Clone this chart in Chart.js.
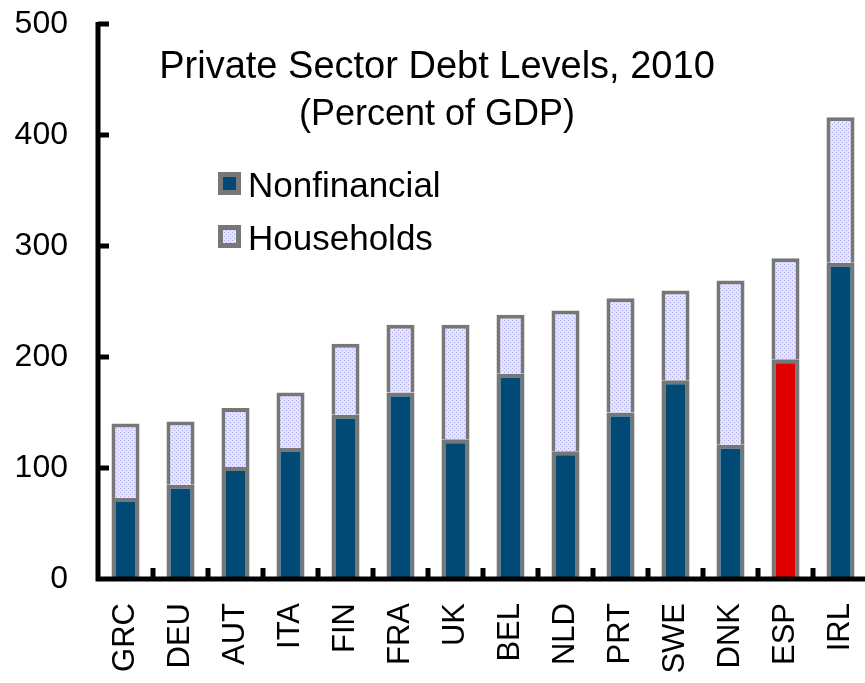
<!DOCTYPE html>
<html>
<head>
<meta charset="utf-8">
<script src="https://cdn.jsdelivr.net/npm/chart.js@4/dist/chart.umd.min.js"></script>
<style>
    body { margin: 0; background: #fff; overflow: hidden; }
    #wrap { width: 868px; height: 683px; }
</style>
</head>
<body>
<div id="wrap"><canvas id="debtChart"></canvas></div>
<script>
const countries = ['GRC', 'DEU', 'AUT', 'ITA', 'FIN', 'FRA', 'UK', 'BEL', 'NLD', 'PRT', 'SWE', 'DNK', 'ESP', 'IRL'];
const nonfinancial = [73, 85, 101, 118, 148, 168, 126, 185, 115, 150, 179, 121, 198, 285];
const households = [67, 57, 53, 50, 64, 61, 103, 53, 127, 103, 81, 148, 91, 131];
const yTicks = [0, 100, 200, 300, 400, 500];
const titleLines = ['Private Sector Debt Levels, 2010', '(Percent of GDP)'];

const FONT = '"Liberation Sans", Arial, sans-serif';
const BLUE = '#004a75';
const RED = '#e00000';
const GREY = '#777777';

// dotted lavender fill for the households part
function dotPattern() {
    const c = document.createElement('canvas');
    c.width = 4; c.height = 4;
    const g = c.getContext('2d');
    g.fillStyle = '#e4e4fb';
    g.fillRect(0, 0, 4, 4);
    g.fillStyle = '#a9a9ec';
    g.fillRect(0, 0, 1, 1);
    g.fillRect(2, 2, 1, 1);
    return g.createPattern(c, 'repeat');
}
const householdFill = dotPattern();

const nonfinColors = countries.map(c => c === 'ESP' ? RED : BLUE);

const decorations = {
    id: 'decorations',
    afterDatasetsDraw(chart) {
        const ctx = chart.ctx;
        const x = chart.scales.x, y = chart.scales.y;
        const left = chart.chartArea.left, right = chart.chartArea.right;
        const y0 = y.getPixelForValue(0), yTop = y.getPixelForValue(500);
        ctx.save();
        ctx.strokeStyle = '#000';
        ctx.lineWidth = 5;
        ctx.lineCap = 'butt';
        ctx.beginPath();
        ctx.moveTo(left, yTop - 2);
        ctx.lineTo(left, y0 + 2.5);
        ctx.moveTo(left - 2.5, y0);
        ctx.lineTo(right, y0);
        // y ticks pointing inwards
        yTicks.forEach(v => {
            const py = y.getPixelForValue(v);
            ctx.moveTo(left, py);
            ctx.lineTo(left + 11, py);
        });
        // x ticks between categories, pointing up
        for (let i = 1; i < countries.length; i++) {
            const px = (x.getPixelForValue(i - 1) + x.getPixelForValue(i)) / 2;
            ctx.moveTo(px, y0);
            ctx.lineTo(px, y0 - 11);
        }
        ctx.stroke();

        // title
        ctx.fillStyle = '#000';
        ctx.textAlign = 'center';
        ctx.textBaseline = 'alphabetic';
        ctx.font = '38px ' + FONT;
        ctx.fillText(titleLines[0], 437, 78);
        ctx.font = '36px ' + FONT;
        ctx.fillText(titleLines[1], 437, 125);

        // legend
        const items = chart.data.datasets.map((ds, i) => ({
            label: ds.label,
            fill: i === 0 ? BLUE : householdFill,
            cy: 183 + i * 53
        }));
        ctx.textAlign = 'left';
        ctx.font = '35px ' + FONT;
        items.forEach(it => {
            ctx.fillStyle = GREY;
            ctx.fillRect(218, it.cy - 11, 23, 23);
            ctx.fillStyle = it.fill;
            ctx.fillRect(223, it.cy - 6, 13, 13);
            ctx.fillStyle = '#000';
            ctx.fillText(it.label, 248, it.cy + 14);
        });
        ctx.restore();
    }
};

new Chart(document.getElementById('debtChart'), {
    type: 'bar',
    data: {
        labels: countries,
        datasets: [{
            label: 'Nonfinancial',
            data: nonfinancial,
            backgroundColor: nonfinColors,
            borderColor: GREY,
            borderWidth: 4,
            borderSkipped: 'bottom'
        }, {
            label: 'Households',
            data: households,
            backgroundColor: householdFill,
            borderColor: GREY,
            borderWidth: 4,
            borderSkipped: 'bottom'
        }]
    },
    options: {
        responsive: true,
        maintainAspectRatio: false,
        animation: false,
        layout: { padding: { top: 24, right: 0, left: 0, bottom: 0 } },
        datasets: { bar: { barPercentage: 0.51, categoryPercentage: 1 } },
        plugins: {
            legend: { display: false },
            title: { display: false },
            tooltip: { enabled: false }
        },
        scales: {
            x: {
                stacked: true,
                grid: { display: false },
                border: { display: false },
                ticks: {
                    color: '#000',
                    font: { family: FONT, size: 31 },
                    minRotation: 90,
                    maxRotation: 90,
                    padding: 16
                },
                afterFit(scale) {
                    scale.height = 104;
                    scale.paddingLeft = 0;
                    scale.paddingRight = 0;
                }
            },
            y: {
                stacked: true,
                min: 0,
                max: 500,
                grid: { display: false, drawTicks: false },
                border: { display: false },
                ticks: {
                    stepSize: 100,
                    color: '#000',
                    font: { family: FONT, size: 32 },
                    padding: 30
                },
                afterFit(scale) {
                    scale.width = 98;
                    scale.paddingTop = 0;
                    scale.paddingBottom = 0;
                }
            }
        }
    },
    plugins: [decorations]
});
</script>
</body>
</html>
